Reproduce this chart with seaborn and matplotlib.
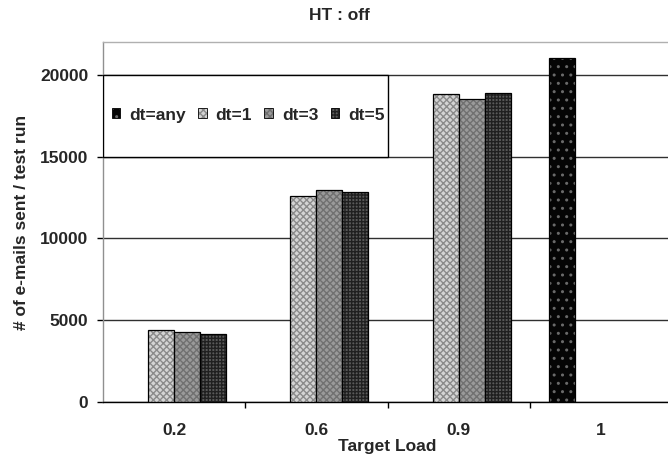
import numpy as np
import pandas as pd
import matplotlib
matplotlib.use("Agg")
import matplotlib.pyplot as plt
from matplotlib.patches import Rectangle
import seaborn as sns

# ---- data ----
loads = ["0.2", "0.6", "0.9", "1"]
series_names = ["dt=any", "dt=1", "dt=3", "dt=5"]
dt_any = [np.nan, np.nan, np.nan, 21000]
dt_1 = [4390, 12560, 18820, np.nan]
dt_3 = [4250, 12980, 18520, np.nan]
dt_5 = [4170, 12860, 18870, np.nan]
y_ticks = [0, 5000, 10000, 15000, 20000]

series_values = [dt_any, dt_1, dt_3, dt_5]
rows = []
for name, vals in zip(series_names, series_values):
    for load, v in zip(loads, vals):
        if not np.isnan(v):
            rows.append({"load": load, "series": name, "value": v})
df = pd.DataFrame(rows)

sns.set_theme(style="white")
plt.rcParams["font.family"] = ["Liberation Sans", "DejaVu Sans"]
plt.rcParams["font.weight"] = "bold"
plt.rcParams["hatch.linewidth"] = 1.0

W, H = 668, 458
fig = plt.figure(figsize=(W / 100, H / 100), dpi=100)
ax = fig.add_axes([103 / W, (H - 402) / H, (672 - 103) / W, (402 - 42) / H])

palette = {"dt=any": "#050505", "dt=1": "#d4d4d4", "dt=3": "#9a9a9a", "dt=5": "#5a5a5a"}
hatch_style = {"dt=any": ("..", "#6a6a6a"), "dt=1": ("xxxxx", "#8a8a8a"),
               "dt=3": ("xxxxx", "#707070"), "dt=5": ("+++++", "#202020")}

sns.barplot(data=df, x="load", y="value", hue="series", order=loads,
            hue_order=series_names, palette=palette, width=0.73,
            edgecolor="black", linewidth=0.9, saturation=1, ax=ax, zorder=3)


def apply_hatch(patch, name):
    hatch, hcol = hatch_style[name]
    patch.set_hatch(hatch)
    if hasattr(patch, "set_hatchcolor"):
        patch.set_hatchcolor(hcol)
    else:
        patch._hatch_color = matplotlib.colors.to_rgba(hcol)


for i, cont in enumerate(ax.containers):
    lab = cont.get_label()
    name = lab if lab in hatch_style else series_names[i]
    for p in cont.patches:
        apply_hatch(p, name)

ax.set_ylim(0, 22000)
ax.set_xlim(-0.5, 3.5)
ax.set_yticks(y_ticks)
ax.set_yticklabels([str(t) for t in y_ticks], fontsize=12.5, fontweight="bold")
ax.set_xticks(range(len(loads)))
ax.set_xticklabels(loads, fontsize=12.5, fontweight="bold")
ax.set_xticks([0.5, 1.5, 2.5], minor=True)
ax.tick_params(axis="x", which="major", length=0, pad=15)
ax.tick_params(axis="x", which="minor", bottom=True, length=4, width=1, color="black", direction="out")
ax.tick_params(axis="y", left=True, length=4.5, width=1, color="black", direction="out", pad=6)

ax.yaxis.grid(True, color="#303030", linewidth=1)
ax.set_axisbelow(True)
ax.spines["left"].set_color("#909090")
ax.spines["top"].set_color("#b0b0b0")
ax.spines["right"].set_visible(False)
ax.spines["bottom"].set_color("black")
for sp in ax.spines.values():
    sp.set_linewidth(1)

ax.set_xlabel("Target Load", fontsize=12.5, fontweight="bold", labelpad=1)
ax.set_ylabel("# of e-mails sent / test run", fontsize=12.5, fontweight="bold", labelpad=8)
fig.text(339 / W, 1 - 15 / H, "HT : off", ha="center", va="center", fontsize=12.5, fontweight="bold")

# legend box (white, black border) spanning first two categories between 15000 and 20000
ax.add_patch(Rectangle((-0.5, 15000), 2.0, 5000, facecolor="white", edgecolor="black",
                       linewidth=1, zorder=4))

h, l = ax.get_legend_handles_labels()
leg = ax.legend(h, l, loc="center left", bbox_to_anchor=(0.006, 0.797),
                ncol=4, frameon=False, borderaxespad=0, borderpad=0.3,
                handlelength=0.5, handleheight=0.5, handletextpad=0.5, columnspacing=0.72,
                prop={"weight": "bold", "size": 12.5})
leg.set_zorder(5)
for hd, name in zip(leg.legend_handles, l):
    hd.set_edgecolor("black")
    hd.set_linewidth(0.6)
    apply_hatch(hd, name)

fig.savefig("out.png", dpi=100)
